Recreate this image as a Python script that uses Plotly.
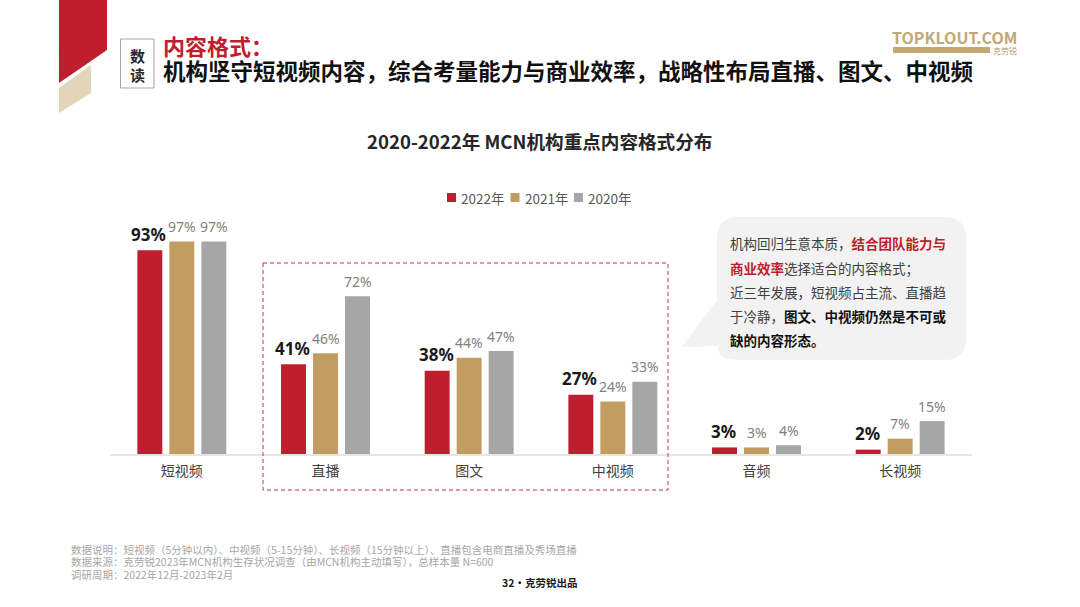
import plotly.graph_objects as go

categories = ["短视频", "直播", "图文", "中视频", "音频", "长视频"]
values_2022 = [93, 41, 38, 27, 3, 2]
values_2021 = [97, 46, 44, 24, 3, 7]
values_2020 = [97, 72, 47, 33, 4, 15]

W, H = 1080, 607
CJK = "Noto Sans CJK SC"
RED = "#be1e2d"
TAN = "#c39c62"
GRAY = "#a6a6a6"
BASE_Y = 454
TOP_Y = 235

fig = go.Figure()


def px(x):
    return x / W


def py(y):
    return 1 - y / H


def label(x, y, text, size=13, color="#404040", anchor="left"):
    # annotations carry about 2px of padding, take it back out
    shift = {"left": -2, "right": 2, "center": 0}[anchor]
    fig.add_annotation(
        x=px(x), y=py(y), xref="paper", yref="paper", text=text, showarrow=False,
        xanchor=anchor, yanchor="middle", align=anchor, xshift=shift,
        font=dict(family=CJK, size=size, color=color),
    )


def path_shape(points, fill):
    d = "M " + " L ".join(f"{px(a):.4f},{py(b):.4f}" for a, b in points) + " Z"
    fig.add_shape(type="path", path=d, xref="paper", yref="paper", fillcolor=fill, line_width=0, layer="below")


# bars, the red series carries the big bold labels
series = [
    ("2022年", values_2022, RED, 17, "#1a1a1a", "<b>{}%</b>", 16, -1),
    ("2021年", values_2021, TAN, 14, "#7f7f7f", "{}%", 15, 0),
    ("2020年", values_2020, GRAY, 14, "#7f7f7f", "{}%", 15, 0),
]
for n, (name, vals, color, size, tcolor, fmt, lift, nudge) in enumerate(series):
    fig.add_trace(go.Bar(x=categories, y=vals, name=name, marker=dict(color=color, line_width=0)))
    # value labels sit a bit higher than textposition="outside" allows
    for cat, v in zip(categories, vals):
        fig.add_annotation(
            x=cat, y=v, text=fmt.format(v), showarrow=False, xanchor="center", yanchor="middle",
            xshift=(n - 1) * 32 + nudge, yshift=lift,
            font=dict(family="Noto Sans", size=size, color=tcolor),
        )
    # small legend, tighter than the built-in one can go
    lx = 447 + n * 63.5
    fig.add_shape(type="rect", x0=px(lx), x1=px(lx + 9), y0=py(193), y1=py(202), xref="paper", yref="paper",
                  fillcolor=color, line_width=0)
    label(lx + 14, 197.5, name, 13.5, "#595959")

# corner decoration
path_shape([(59, 0), (107, 0), (107, 50), (59, 83)], RED)
path_shape([(59, 88), (91, 65), (91, 93), (59, 113)], "#e3d5b8")

# header
fig.add_shape(type="rect", x0=px(120.5), x1=px(154), y0=py(39), y1=py(88), xref="paper", yref="paper",
              line=dict(color="#a6a6a6", width=1), fillcolor="white")
label(137, 55, "<b>数</b>", 15, "#262626", "center")
label(137, 74, "<b>读</b>", 15, "#262626", "center")
label(163, 45, "<b>内容格式：</b>", 22, RED)
label(163, 70, "<b>机构坚守短视频内容，综合考量能力与商业效率，战略性布局直播、图文、中视频</b>", 22.5, "#111111")

# logo
label(1017, 37, "<b>TOPKLOUT.COM</b>", 16, "#c3a874", "right")
fig.add_shape(type="rect", x0=px(893), x1=px(990), y0=py(47), y1=py(53), xref="paper", yref="paper",
              fillcolor="#c3a874", line_width=0)
label(1017, 50, "克劳锐", 8, "#b09a70", "right")

label(539, 140, "<b>2020-2022年 MCN机构重点内容格式分布</b>", 18.6, "#262626", "center")

# dashed highlight around 直播 / 图文 / 中视频
fig.add_shape(type="rect", x0=px(263), x1=px(668), y0=py(263), y1=py(490), xref="paper", yref="paper",
              line=dict(color="#c0334a", width=1, dash="4px,3px"))

# callout bubble
r = 22
L, R_, T, B = 717, 966, 217, 360
bubble = (
    f"M {px(L + r)},{py(T)} L {px(R_ - r)},{py(T)} Q {px(R_)},{py(T)} {px(R_)},{py(T + r)} "
    f"L {px(R_)},{py(B - r)} Q {px(R_)},{py(B)} {px(R_ - r)},{py(B)} "
    f"L {px(L + r)},{py(B)} Q {px(L)},{py(B)} {px(L + 1)},{py(346)} "
    f"L {px(682)},{py(347)} L {px(L)},{py(300)} L {px(L)},{py(T + r)} Q {px(L)},{py(T)} {px(L + r)},{py(T)} Z"
)
fig.add_shape(type="path", path=bubble, xref="paper", yref="paper", fillcolor="#f2f2f2", line_width=0, layer="below")

hl = f'<span style="color:{RED}"><b>%s</b></span>'
label(730, 243, "机构回归生意本质，" + hl % "结合团队能力与", 13.5)
label(730, 268, hl % "商业效率" + "选择适合的内容格式；", 13.5)
label(730, 292, "近三年发展，短视频占主流、直播趋", 13.5)
label(730, 316, "于冷静，<b><span style=\"color:#111\">图文、中视频仍然是不可或</span></b>", 13.5)
label(730, 340, "<b><span style=\"color:#111\">缺的内容形态。</span></b>", 13.5)

# footer
label(71, 549, "数据说明：短视频（5分钟以内）、中视频（5-15分钟）、长视频（15分钟以上）、直播包含电商直播及秀场直播", 10.5, "#a6a6a6")
label(71, 561, "数据来源：克劳锐2023年MCN机构生存状况调查（由MCN机构主动填写），总样本量 N=600", 10.5, "#a6a6a6")
label(71, 574, "调研周期：2022年12月-2023年2月", 10.5, "#a6a6a6")
label(577, 582, "<b>32•克劳锐出品</b>", 10.5, "#1a1a1a", "right")

fig.update_layout(
    width=W, height=H, margin=dict(l=0, r=0, t=0, b=0),
    paper_bgcolor="white", plot_bgcolor="white",
    barmode="group", bargap=0.332, bargroupgap=0.22,
    showlegend=False,
    xaxis=dict(
        domain=[px(110), px(972)], showline=True, linecolor="#e6e6e6", linewidth=1.5,
        ticks="", showgrid=False, ticklabelstandoff=3,
        tickfont=dict(family=CJK, size=14, color="#404040"),
    ),
    yaxis=dict(
        domain=[py(BASE_Y), py(TOP_Y)], range=[0, 100], visible=False, showgrid=False,
    ),
)

fig.write_html("out.html", config={"displayModeBar": False}, post_script="document.body.style.margin='0';")
